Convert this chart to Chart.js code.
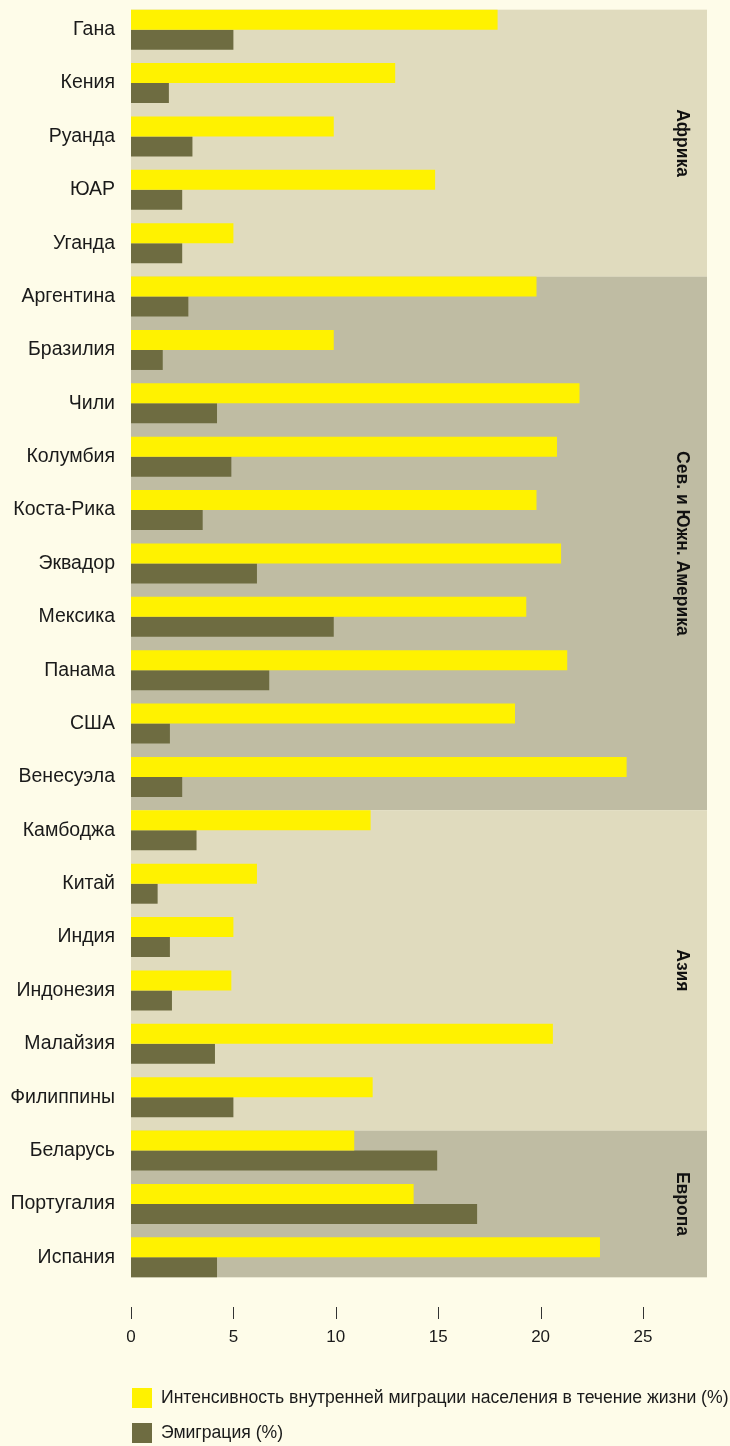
<!DOCTYPE html>
<html>
<head>
<meta charset="utf-8">
<script src="https://cdn.jsdelivr.net/npm/chart.js"></script>
<style>
  html, body { margin: 0; padding: 0; background: #FEFCE9; }
</style>
</head>
<body>
<canvas id="myChart" width="730" height="1446"></canvas>
<script>
    const countries = ['Гана', 'Кения', 'Руанда', 'ЮАР', 'Уганда',
        'Аргентина', 'Бразилия', 'Чили', 'Колумбия', 'Коста-Рика', 'Эквадор', 'Мексика', 'Панама', 'США', 'Венесуэла',
        'Камбоджа', 'Китай', 'Индия', 'Индонезия', 'Малайзия', 'Филиппины',
        'Беларусь', 'Португалия', 'Испания'];

    const internalMigration = [17.9, 12.9, 9.9, 14.85, 5.0,
        19.8, 9.9, 21.9, 20.8, 19.8, 21.0, 19.3, 21.3, 18.75, 24.2,
        11.7, 6.15, 5.0, 4.9, 20.6, 11.8,
        10.9, 13.8, 22.9];

    const emigration = [5.0, 1.85, 3.0, 2.5, 2.5,
        2.8, 1.55, 4.2, 4.9, 3.5, 6.15, 9.9, 6.75, 1.9, 2.5,
        3.2, 1.3, 1.9, 2.0, 4.1, 5.0,
        14.95, 16.9, 4.2];

    const regions = ['Африка', 'Сев. и Южн. Америка', 'Азия', 'Европа'];
    const regionSizes = [5, 10, 6, 3];
    const xTicks = [0, 5, 10, 15, 20, 25];

    const FONT = "'Liberation Sans', Arial, sans-serif";
    const bandColors = ['#E0DBBE', '#BFBCA3'];

    function regionExtents(chart) {
        const m0 = chart.getDatasetMeta(0).data;
        const m1 = chart.getDatasetMeta(1).data;
        const out = [];
        let start = 0;
        for (let r = 0; r < regionSizes.length; r++) {
            const end = start + regionSizes[r] - 1;
            const top = m0[start].y - m0[start].height / 2;
            let bottom;
            if (r < regionSizes.length - 1) {
                bottom = m0[end + 1].y - m0[end + 1].height / 2;
            } else {
                bottom = m1[end].y + m1[end].height / 2;
            }
            out.push({ top, bottom });
            start = end + 1;
        }
        return out;
    }

    // background bands per region + rotated region names
    const regionBands = {
        id: 'regionBands',
        beforeDatasetsDraw(chart) {
            const {ctx, chartArea} = chart;
            ctx.save();
            regionExtents(chart).forEach((b, r) => {
                ctx.fillStyle = bandColors[r % 2];
                ctx.fillRect(chartArea.left, b.top, chartArea.right - chartArea.left, b.bottom - b.top);
            });
            ctx.restore();
        },
        afterDatasetsDraw(chart) {
            const {ctx, chartArea} = chart;
            ctx.save();
            ctx.fillStyle = '#111';
            ctx.font = "bold 17.5px " + FONT;
            ctx.textAlign = 'center';
            ctx.textBaseline = 'middle';
            regionExtents(chart).forEach((b, r) => {
                ctx.save();
                ctx.translate(chartArea.right - 25, (b.top + b.bottom) / 2);
                ctx.rotate(Math.PI / 2);
                ctx.fillText(regions[r], 0, 0);
                ctx.restore();
            });
            ctx.restore();
        }
    };

    // short tick marks under the plot and the legend at the bottom
    const extras = {
        id: 'extras',
        afterDraw(chart) {
            const {ctx} = chart;
            const xs = chart.scales.x;
            ctx.save();
            ctx.strokeStyle = '#333';
            ctx.lineWidth = 1;
            xTicks.forEach(v => {
                const px = Math.round(xs.getPixelForValue(v)) + 0.5;
                ctx.beginPath();
                ctx.moveTo(px, xs.top + 23);
                ctx.lineTo(px, xs.top + 35);
                ctx.stroke();
            });

            ctx.font = '17.6px ' + FONT;
            ctx.textBaseline = 'middle';
            ctx.textAlign = 'left';
            chart.data.datasets.forEach((ds, i) => {
                const y = chart.height - 58 + i * 35;
                ctx.fillStyle = ds.backgroundColor;
                ctx.fillRect(xs.left + 1, y, 20, 20);
                ctx.fillStyle = '#1a1a1a';
                ctx.fillText(ds.label, xs.left + 30, y + 10);
            });
            ctx.restore();
        }
    };

    const data = {
        labels: countries,
        datasets: [{
            label: 'Интенсивность внутренней миграции населения в течение жизни (%)',
            data: internalMigration,
            backgroundColor: '#FFF200',
            categoryPercentage: 0.75,
            barPercentage: 1.0
        }, {
            label: 'Эмиграция (%)',
            data: emigration,
            backgroundColor: '#6E6C41',
            categoryPercentage: 0.75,
            barPercentage: 1.0
        }]
    };

    const config = {
        type: 'bar',
        data,
        options: {
            indexAxis: 'y',
            responsive: false,
            animation: false,
            layout: { padding: { top: 3, right: 23, bottom: 0, left: 0 } },
            scales: {
                x: {
                    min: 0,
                    max: 28.125,
                    afterFit(scale) {
                        scale.height = 162;
                        scale.paddingLeft = 0;
                        scale.paddingRight = 0;
                    },
                    afterBuildTicks(scale) { scale.ticks = xTicks.map(v => ({ value: v })); },
                    grid: { display: false, drawTicks: false },
                    border: { display: false },
                    ticks: {
                        padding: 43,
                        color: '#1a1a1a',
                        font: { family: FONT, size: 17 },
                        maxRotation: 0
                    }
                },
                y: {
                    afterFit(scale) {
                        scale.width = 131;
                        scale.paddingTop = 0;
                        scale.paddingBottom = 0;
                    },
                    grid: { display: false, drawTicks: false },
                    border: { display: false },
                    ticks: {
                        padding: 16,
                        color: '#1a1a1a',
                        font: { family: FONT, size: 19.5 }
                    }
                }
            },
            plugins: {
                legend: { display: false },
                tooltip: { enabled: false }
            }
        },
        plugins: [regionBands, extras]
    };

    const myChart = new Chart(document.getElementById('myChart'), config);
</script>
</body>
</html>
